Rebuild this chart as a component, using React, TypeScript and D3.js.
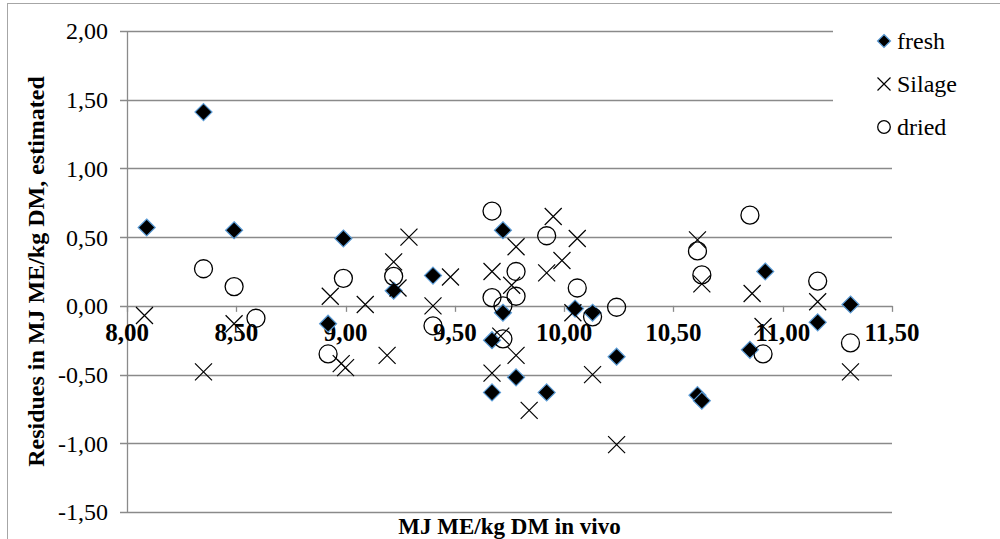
import React from "react";
import * as d3 from "d3";

const freshX = [8.09, 8.35, 8.49, 8.99, 8.92, 9.22, 9.40, 9.72, 9.72, 9.67, 9.67, 9.78, 9.92, 10.05, 10.13, 10.24, 10.61, 10.63, 10.85, 10.92, 11.16, 11.31];
const freshY = [0.57, 1.41, 0.55, 0.49, -0.13, 0.11, 0.22, 0.55, -0.05, -0.25, -0.63, -0.52, -0.63, -0.02, -0.05, -0.37, -0.65, -0.69, -0.32, 0.25, -0.12, 0.01];

const silageX = [8.08, 8.35, 8.49, 8.93, 8.98, 9.0, 9.09, 9.19, 9.22, 9.24, 9.29, 9.40, 9.48, 9.67, 9.67, 9.71, 9.76, 9.78, 9.78, 9.84, 9.92, 9.95, 9.99, 10.04, 10.06, 10.13, 10.24, 10.61, 10.63, 10.86, 10.91, 11.16, 11.31];
const silageY = [-0.07, -0.48, -0.13, 0.07, -0.42, -0.45, 0.01, -0.36, 0.32, 0.13, 0.50, 0.0, 0.21, 0.25, -0.49, -0.22, 0.15, 0.43, -0.36, -0.76, 0.24, 0.65, 0.33, -0.05, 0.49, -0.50, -1.01, 0.48, 0.16, 0.09, -0.15, 0.03, -0.48];

const driedX = [8.35, 8.49, 8.59, 8.99, 8.92, 9.22, 9.40, 9.67, 9.78, 9.67, 9.78, 9.72, 9.72, 9.92, 10.06, 10.13, 10.24, 10.61, 10.63, 10.85, 10.91, 11.16, 11.31];
const driedY = [0.27, 0.14, -0.09, 0.20, -0.35, 0.215, -0.145, 0.69, 0.25, 0.06, 0.07, 0.0, -0.24, 0.51, 0.13, -0.08, -0.01, 0.40, 0.225, 0.66, -0.35, 0.18, -0.27];

const xTicks = [8, 8.5, 9, 9.5, 10, 10.5, 11, 11.5];
const yTicks = [2, 1.5, 1, 0.5, 0, -0.5, -1, -1.5];
const seriesNames = ["fresh", "Silage", "dried"];

const xTitle = "MJ ME/kg DM in vivo";
const yTitle = "Residues in MJ ME/kg DM, estimated";

const locale = d3.formatLocale({ decimal: ",", thousands: ".", grouping: [3], currency: ["", ""], minus: "-" });
const fmt = locale.format(".2f");

const FONT = '"Liberation Serif", "Times New Roman", "DejaVu Serif", "Noto Serif", serif';
const GRID = "#8a8a8a";

function diamondPath(r: number) {
  return `M0,${-r}L${r},0L0,${r}L${-r},0Z`;
}
function crossPath(r: number) {
  return `M${-r},${-r}L${r},${r}M${-r},${r}L${r},${-r}`;
}

const txt = { fontFamily: FONT } as React.CSSProperties;

export default function App() {
  const W = 1000, H = 539;
  const x = d3.scaleLinear().domain([8, 11.5]).range([127, 892]);
  const y = d3.scaleLinear().domain([-1.5, 2]).range([512, 31]);

  const fresh = freshX.map((v, i) => [v, freshY[i]]);
  const silage = silageX.map((v, i) => [v, silageY[i]]);
  const dried = driedX.map((v, i) => [v, driedY[i]]);

  const legendX = 884;
  const legendYs = [41, 84, 127];

  return (
    <svg width={W} height={H} style={{ position: "absolute", left: 0, top: 0, background: "#fff", fontFamily: FONT }}>
      <rect x={7.5} y={3.5} width={1000} height={560} fill="#fff" stroke="#a6a6a6" strokeWidth={1} />
      {yTicks.map((t) => (
        <g key={"gy" + t}>
          <line x1={120} x2={x(11.5)} y1={Math.round(y(t)) + 0.5} y2={Math.round(y(t)) + 0.5} stroke={GRID} strokeWidth={1.3} />
          <text style={txt} x={108} y={y(t)} dy="0.35em" textAnchor="end" fontSize={24} fill="#000">{fmt(t)}</text>
        </g>
      ))}
      <line x1={127.5} x2={127.5} y1={y(2)} y2={y(-1.5)} stroke={GRID} strokeWidth={1.3} />
      {xTicks.map((t) => (
        <g key={"gx" + t}>
          <line x1={Math.round(x(t)) + 0.5} x2={Math.round(x(t)) + 0.5} y1={y(0)} y2={y(0) + 6} stroke={GRID} strokeWidth={1.3} />
          <text style={txt} x={x(t)} y={341} textAnchor="middle" fontSize={25} fontWeight="bold" fill="#000">{fmt(t)}</text>
        </g>
      ))}
      {fresh.map((d, i) => (
        <path key={"f" + i} d={diamondPath(8.5)} transform={`translate(${x(d[0])},${y(d[1])})`} fill="#000" stroke="#5B9BD5" strokeWidth={1.2} />
      ))}
      {silage.map((d, i) => (
        <path key={"s" + i} d={crossPath(8.5)} transform={`translate(${x(d[0])},${y(d[1])})`} fill="none" stroke="#000" strokeWidth={1.2} />
      ))}
      {dried.map((d, i) => (
        <circle key={"d" + i} cx={x(d[0])} cy={y(d[1])} r={9} fill="none" stroke="#000" strokeWidth={1.3} />
      ))}
      <rect x={833} y={8} width={160} height={140} fill="#fff" />
      {seriesNames.map((name, i) => (
        <g key={"l" + i} transform={`translate(${legendX},${legendYs[i]})`}>
          {i === 0 && <path d={diamondPath(6.5)} fill="#000" stroke="#5B9BD5" strokeWidth={1.2} />}
          {i === 1 && <path d={crossPath(6.5)} fill="none" stroke="#000" strokeWidth={1.2} />}
          {i === 2 && <circle r={6.3} fill="none" stroke="#000" strokeWidth={1.3} />}
          <text style={txt} x={13} dy="0.35em" fontSize={24} fill="#000">{name}</text>
        </g>
      ))}
      <text style={txt} x={(x(8) + x(11.5)) / 2} y={534} textAnchor="middle" fontSize={23} fontWeight="bold" fill="#000">{xTitle}</text>
      <text style={txt} transform={`translate(44,${(y(2) + y(-1.5)) / 2}) rotate(-90)`} textAnchor="middle" fontSize={24} fontWeight="bold" fill="#000">{yTitle}</text>
    </svg>
  );
}
